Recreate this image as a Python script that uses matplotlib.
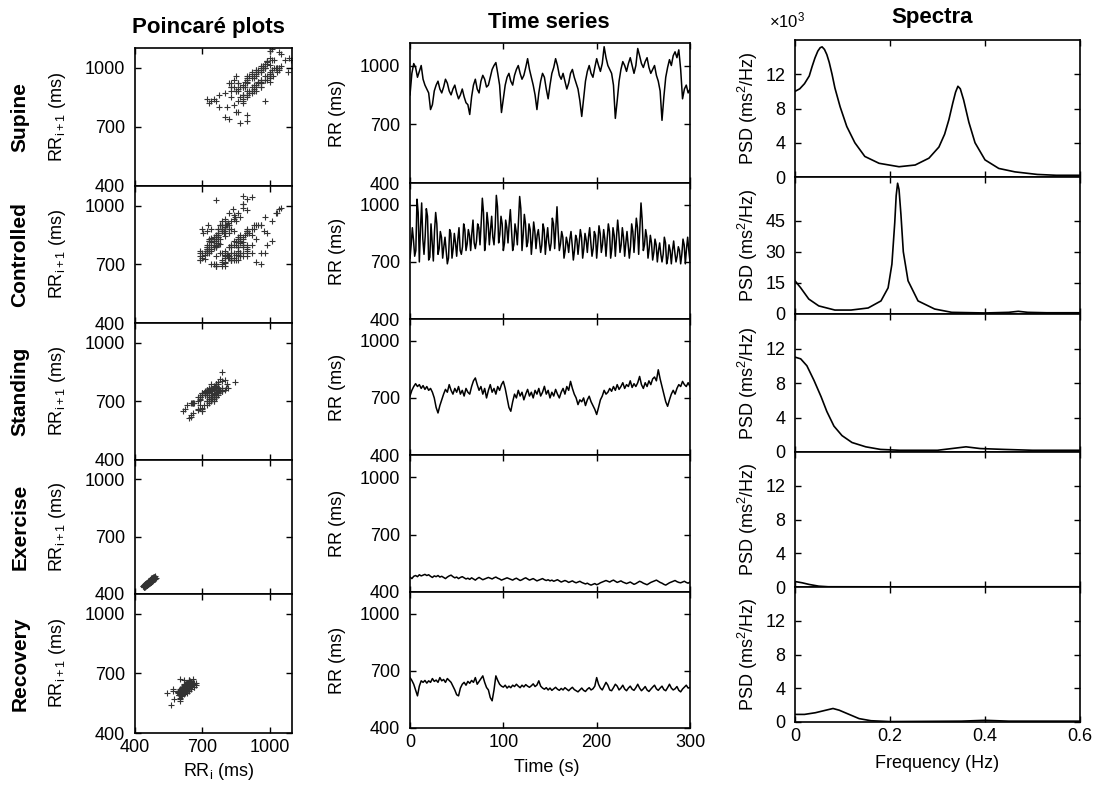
import matplotlib.pyplot as plt
import numpy as np

plt.rcParams['font.family'] = ['Liberation Sans', 'DejaVu Sans']
plt.rcParams['mathtext.fontset'] = 'custom'
plt.rcParams['mathtext.rm'] = 'Liberation Sans'
plt.rcParams['mathtext.it'] = 'Liberation Sans'

conditions = ['Supine', 'Controlled', 'Standing', 'Exercise', 'Recovery']

# RR intervals (ms), read every 2 s off the time series panels
time_s = np.arange(0, 301, 2)
# controlled breathing read more finely (4 readings per 5 s breath)
time_ctrl = np.linspace(0, 300, 241)

rr_supine = [850, 960, 1010, 990, 940, 970,
             1000, 930, 900, 880, 860,
             775, 800, 870,
             900, 920, 880, 860, 890, 930, 910, 870, 850, 880, 900, 860, 830, 850, 880, 840, 810,
             800, 750, 840,
             900, 930, 880, 860, 920, 950, 930, 890, 900, 940, 980, 1000, 1015, 960, 900,
             760, 830, 900,
             940, 960, 920, 900, 950, 980, 1000, 960, 930, 950, 990, 1035, 980, 940, 900,
             850, 775, 860,
             920, 960, 940, 880, 830, 900, 960, 990, 1035, 1000, 950, 930, 960, 920, 880, 910, 960, 980, 940, 910, 880,
             820, 740, 830, 920,
             970, 1000, 960, 940, 990, 1035, 1000, 970, 1010, 1096, 1040, 1000, 980, 960, 900,
             730, 820, 920,
             980, 1020, 1000, 970, 1010, 1040, 1000, 960, 1000, 1087, 1050, 1010, 990, 1020, 1040, 990, 960, 980, 1000, 950, 920, 870,
             720, 840, 940,
             990, 1030, 1000, 1050, 1070, 1040, 1080, 980,
             830, 880, 900, 860, 880]

rr_controlled = [720, 790, 880, 815, 730, 760, 1030, 960, 700, 880, 1010, 820, 740, 835, 980, 940,
                 710, 725, 900, 800, 705, 860, 960, 900, 740, 770, 860, 830, 720, 780, 830, 760,
                 690, 720, 870, 850, 720, 770, 850, 800, 730, 820, 880, 760, 740, 780, 900, 870,
                 760, 795, 870, 840, 760, 850, 920, 800, 770, 810, 900, 880, 790, 900, 1035, 960,
                 760, 820, 960, 900, 790, 870, 940, 830, 790, 880, 1050, 990, 800, 845, 940, 900,
                 760, 800, 920, 880, 800, 900, 975, 870, 760, 790, 900, 860, 790, 920, 1044, 980,
                 760, 840, 950, 900, 780, 805, 900, 870, 740, 815, 910, 860, 770, 840, 870, 810,
                 750, 790, 900, 870, 740, 820, 880, 800, 760, 800, 930, 900, 770, 880, 990, 860,
                 760, 795, 860, 830, 720, 760, 830, 800, 750, 820, 860, 790, 710, 760, 840, 820,
                 740, 800, 870, 830, 720, 770, 850, 815, 750, 830, 880, 800, 730, 770, 860, 840,
                 720, 800, 890, 850, 750, 790, 870, 820, 730, 820, 900, 860, 720, 770, 880, 840,
                 730, 830, 920, 850, 750, 790, 880, 830, 730, 800, 860, 790, 720, 780, 900, 860,
                 750, 840, 930, 880, 740, 880, 1010, 920, 760, 790, 870, 830, 720, 770, 840, 800,
                 710, 750, 820, 790, 700, 760, 800, 740, 700, 740, 830, 800, 690, 720, 790, 760,
                 690, 760, 810, 750, 700, 730, 780, 760, 690, 740, 820, 790, 690, 770, 830, 760,
                 700]

rr_standing = [710, 740, 760, 775, 760, 770, 750, 765, 745, 760, 740,
               750, 730, 700, 650, 621, 660, 690, 720, 745,
               730, 770, 740, 720, 750, 730, 760, 720, 740, 710, 750, 730, 720, 760, 790, 805,
               770, 740, 760, 720, 750, 700, 740, 770, 730, 750, 720, 760, 740, 770, 787,
               750, 700, 650, 630, 680, 720,
               700, 740, 710, 730, 690, 720, 745, 710, 730, 700, 740, 720, 750, 710, 730,
               761, 720, 740, 700, 730, 710, 745, 720, 700, 730, 750, 720, 760, 740, 787,
               750, 720, 700, 665, 690, 680, 700, 660, 690, 709, 680, 660, 640, 613, 650, 690, 710, 740, 720,
               730, 750, 735, 760, 740, 770, 745, 760, 780, 750, 770, 760, 790, 755, 775, 760, 780, 813, 770,
               750, 780, 760, 790, 770, 800,
               810, 790, 848, 800, 760, 720, 680, 656, 690, 720, 740, 720, 750, 770, 760, 787, 770, 760, 780, 760]

rr_exercise = [478, 470, 482, 486, 480, 490, 484, 488, 492, 486, 490, 482, 476, 484, 480, 486,
               478, 482, 476, 470, 478, 484, 488, 480, 474, 478, 470, 476, 480, 474, 468,
               472, 466, 474, 468, 462, 470, 476, 470, 464, 468, 472, 476, 472, 468, 474,
               478, 472, 468, 462, 466, 470, 474, 470, 466, 462, 468, 472, 466, 460, 464,
               470, 474, 468, 462, 466, 470, 464, 458, 462, 466, 470, 464, 460, 464, 458,
               462, 456, 460, 464, 458, 452, 456, 460, 456, 450, 454, 458, 452, 448, 452,
               456, 450, 446, 442, 446, 440, 436, 440, 444, 438, 442, 448, 452, 456, 460,
               456, 452, 458, 462, 456, 450, 454, 458, 452, 448, 444, 448, 452, 446, 440,
               444, 450, 456, 452, 446, 442, 438, 444, 450, 454, 458, 462, 456, 450, 446,
               440, 436, 442, 448, 452, 456, 460, 454, 450, 448, 452, 456, 450, 446, 452]

rr_recovery = [665, 650, 630, 600, 569, 620, 648,
               640, 650, 636, 648, 640, 660, 645, 652, 640, 665, 648, 655, 640, 660, 650, 640,
               620, 600, 575, 569, 610,
               630, 640, 625, 645, 635, 650, 640, 665, 630, 645, 660, 674,
               640, 613, 600, 560, 543, 600, 674, 650,
               630, 620, 615, 625, 610, 620, 612, 625, 618, 630, 620, 612, 625, 616, 628, 620,
               614, 622, 632, 618, 626, 648,
               620, 610, 604, 612, 600, 610, 598, 606, 614, 604, 598, 608, 600, 612, 604,
               596, 606, 614, 602, 596, 590, 600, 610, 598, 592, 604, 612, 600, 606, 620,
               665, 630, 610, 600, 620, 640, 625, 600, 596, 612, 630, 620, 600, 610, 625, 605, 596,
               610, 620, 604, 598, 612, 630, 610, 596, 606, 618, 600, 592, 604, 615, 625, 606, 598,
               610, 620, 602, 596, 612, 630, 610, 600, 606, 618, 598, 590, 605, 615, 625, 610, 613]

# spectra (x10^3 ms^2/Hz), read at the marked frequencies
freq_supine = [0, 0.01, 0.02, 0.03, 0.036, 0.042, 0.048, 0.053, 0.057, 0.062, 0.067, 0.072, 0.078,
               0.084, 0.095, 0.109, 0.126, 0.147, 0.177, 0.219, 0.253, 0.282, 0.303, 0.315, 0.324,
               0.332, 0.338, 0.343, 0.348, 0.355, 0.366, 0.379, 0.40, 0.429, 0.463, 0.51, 0.55, 0.6]
psd_supine = [10.0, 10.3, 10.9, 11.8, 12.9, 13.9, 14.7, 15.1, 15.2, 14.9, 14.3, 13.4, 12.0,
              10.4, 8.2, 5.9, 4.0, 2.4, 1.6, 1.2, 1.4, 2.2, 3.5, 5.0, 6.7,
              8.6, 9.9, 10.6, 10.3, 9.0, 6.4, 4.0, 2.0, 1.0, 0.6, 0.3, 0.2, 0.2]

freq_controlled = [0, 0.012, 0.029, 0.05, 0.084, 0.118, 0.154, 0.181, 0.196, 0.204, 0.21, 0.213,
                   0.216, 0.219, 0.223, 0.228, 0.238, 0.259, 0.294, 0.33, 0.4, 0.45, 0.47, 0.49,
                   0.53, 0.6]
psd_controlled = [16, 12.6, 7.2, 3.9, 1.9, 1.9, 2.9, 6.3, 12.6, 24, 44, 57,
                  63, 60, 48, 30, 16, 6.3, 2.4, 0.8, 0.5, 0.8, 1.3, 0.8,
                  0.6, 0.6]

freq_standing = [0, 0.012, 0.025, 0.04, 0.055, 0.067, 0.082, 0.099, 0.12, 0.149, 0.18, 0.22,
                 0.3, 0.33, 0.36, 0.39, 0.44, 0.5, 0.6]
psd_standing = [11.0, 10.8, 10.0, 8.3, 6.4, 4.7, 3.0, 1.9, 1.1, 0.6, 0.3, 0.2,
                0.2, 0.4, 0.6, 0.4, 0.3, 0.2, 0.2]

freq_exercise = [0, 0.015, 0.03, 0.05, 0.07, 0.2, 0.4, 0.6]
psd_exercise = [0.65, 0.5, 0.3, 0.1, 0.03, 0.02, 0.03, 0.03]

freq_recovery = [0, 0.02, 0.043, 0.065, 0.08, 0.093, 0.114, 0.135, 0.16, 0.2, 0.35, 0.4, 0.45, 0.6]
psd_recovery = [0.9, 0.9, 1.1, 1.4, 1.6, 1.4, 0.9, 0.4, 0.15, 0.05, 0.1, 0.2, 0.1, 0.1]

rr_all = [rr_supine, rr_controlled, rr_standing, rr_exercise, rr_recovery]
t_all = [time_s, time_ctrl, time_s, time_s, time_s]
freq_all = [freq_supine, freq_controlled, freq_standing, freq_exercise, freq_recovery]
psd_all = [psd_supine, psd_controlled, psd_standing, psd_exercise, psd_recovery]

W, H = 1100, 785
fig = plt.figure(figsize=(11, 7.85), dpi=100)

col_lr = [(135, 292), (410, 690), (795, 1080)]
row_edges = [[48, 186, 323, 460, 594, 733],
             [43, 183, 319, 455, 592, 728],
             [40, 177, 314, 452, 587, 722]]


def make_ax(col, row):
    l, r = col_lr[col]
    t, b = row_edges[col][row], row_edges[col][row + 1]
    ax = fig.add_axes([l / W, 1 - b / H, (r - l) / W, (b - t) / H])
    ax.tick_params(direction='in', top=True, right=True, length=4, width=1,
                   labelsize=13, pad=7)
    ax.tick_params(axis='x', pad=4)
    for s in ax.spines.values():
        s.set_linewidth(1.2)
    return ax


for i, name in enumerate(conditions):
    rr = np.array(rr_all[i])

    # Poincare plot
    ax = make_ax(0, i)
    ax.plot(rr[:-1], rr[1:], '+', color='0.2', ms=4, mew=0.8)
    ax.set_xlim(400, 1100)
    ax.set_ylim(400, 1100)
    ax.set_xticks([400, 700, 1000])
    ax.set_yticks([400, 700, 1000])
    if i < 4:
        ax.set_xticklabels([])

    # time series
    ax = make_ax(1, i)
    ax.plot(t_all[i], rr, color='black', lw=1.1)
    ax.set_xlim(0, 300)
    ax.set_ylim(400, 1115)
    ax.set_xticks([0, 100, 200, 300])
    ax.set_yticks([400, 700, 1000])
    if i < 4:
        ax.set_xticklabels([])

    # spectrum
    ax = make_ax(2, i)
    ax.plot(freq_all[i], psd_all[i], color='black', lw=1.2)
    ax.set_xlim(0, 0.6)
    ax.set_xticks([0, 0.2, 0.4, 0.6])
    if i == 1:
        ax.set_ylim(0, 66)
        ax.set_yticks([0, 15, 30, 45])
    else:
        ax.set_ylim(0, 16)
        ax.set_yticks([0, 4, 8, 12])
    if i < 4:
        ax.set_xticklabels([])
    else:
        ax.set_xticklabels(['0', '0.2', '0.4', '0.6'])

    # labels
    t0, t1 = row_edges[0][i], row_edges[0][i + 1]
    fig.text(20 / W, 1 - (t0 + t1) / 2 / H, name, rotation=90, ha='center', va='center',
             fontsize=15, fontweight='bold')
    fig.text(58 / W, 1 - (t0 + t1) / 2 / H, r'RR$_{\mathrm{i+1}}$ (ms)', rotation=90,
             ha='center', va='center', fontsize=13)
    t0, t1 = row_edges[1][i], row_edges[1][i + 1]
    fig.text(338 / W, 1 - (t0 + t1) / 2 / H, 'RR (ms)', rotation=90,
             ha='center', va='center', fontsize=13)
    t0, t1 = row_edges[2][i], row_edges[2][i + 1]
    fig.text(748 / W, 1 - (t0 + t1) / 2 / H, r'PSD (ms$^2$/Hz)', rotation=90,
             ha='center', va='center', fontsize=13)

fig.text(208 / W, 1 - 27 / H, 'Poincaré plots', ha='center', va='center',
         fontsize=16, fontweight='bold')
fig.text(549 / W, 1 - 22 / H, 'Time series', ha='center', va='center',
         fontsize=16, fontweight='bold')
fig.text(932 / W, 1 - 18 / H, 'Spectra', ha='center', va='center',
         fontsize=16, fontweight='bold')
fig.text(787 / W, 1 - 20 / H, r'$\times$10$^3$', ha='center', va='center', fontsize=12)

fig.text(219 / W, 1 - 772 / H, r'RR$_{\mathrm{i}}$ (ms)', ha='center', va='center', fontsize=13)
fig.text(547 / W, 1 - 768 / H, 'Time (s)', ha='center', va='center', fontsize=13)
fig.text(937 / W, 1 - 763 / H, 'Frequency (Hz)', ha='center', va='center', fontsize=13)

fig.savefig('out.png', dpi=100)
